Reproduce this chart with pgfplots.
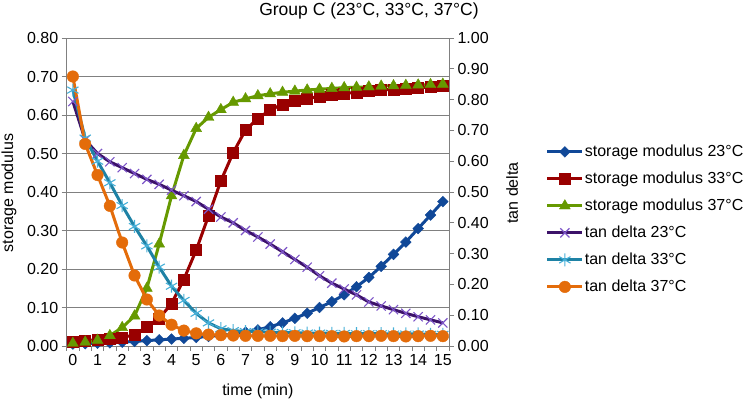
\documentclass[border=0pt]{standalone}
\usepackage{fontspec}
\setmainfont{Liberation Sans}
\usepackage{pgfplots}
\usepackage{pgfplotstable}
\pgfplotsset{compat=1.18}

\definecolor{smblue}{RGB}{16,72,152}
\definecolor{smred}{RGB}{153,0,0}
\definecolor{smgreen}{RGB}{102,153,0}
\definecolor{tdpurple}{RGB}{60,18,105}
\definecolor{tdpurplemark}{RGB}{125,85,200}
\definecolor{tdteal}{RGB}{30,130,165}
\definecolor{tdtealmark}{RGB}{70,175,215}
\definecolor{tdorange}{RGB}{228,108,10}
\definecolor{gridgray}{RGB}{128,128,128}

% time (min), storage modulus and tan delta at 23, 33 and 37 degrees C
\pgfplotstableread{
t    sm23  sm33  sm37  td23  td33  td37
0.0  0.005 0.010 0.007 0.794 0.831 0.875
0.5  0.006 0.013 0.010 0.669 0.675 0.656
1.0  0.007 0.017 0.015 0.625 0.600 0.555
1.5  0.008 0.020 0.027 0.598 0.530 0.455
2.0  0.010 0.022 0.048 0.579 0.456 0.336
2.5  0.012 0.029 0.078 0.560 0.388 0.229
3.0  0.014 0.050 0.150 0.541 0.325 0.151
3.5  0.016 0.072 0.265 0.525 0.256 0.099
4.0  0.018 0.110 0.390 0.506 0.194 0.069
4.5  0.020 0.173 0.495 0.488 0.148 0.050
5.0  0.022 0.249 0.565 0.469 0.106 0.041
5.5  0.025 0.338 0.594 0.444 0.075 0.037
6.0  0.028 0.429 0.614 0.419 0.056 0.035
6.5  0.031 0.502 0.633 0.400 0.050 0.034
7.0  0.036 0.561 0.642 0.375 0.047 0.033
7.5  0.042 0.591 0.650 0.354 0.046 0.033
8.0  0.050 0.613 0.655 0.331 0.045 0.033
8.5  0.060 0.628 0.659 0.306 0.044 0.032
9.0  0.072 0.637 0.662 0.281 0.043 0.033
9.5  0.085 0.643 0.665 0.256 0.042 0.032
10.0 0.100 0.648 0.667 0.228 0.042 0.032
10.5 0.115 0.652 0.669 0.204 0.041 0.032
11.0 0.133 0.656 0.671 0.185 0.041 0.031
11.5 0.154 0.659 0.672 0.166 0.040 0.032
12.0 0.178 0.662 0.673 0.143 0.040 0.032
12.5 0.207 0.665 0.675 0.130 0.040 0.033
13.0 0.238 0.667 0.676 0.118 0.039 0.032
13.5 0.270 0.669 0.677 0.106 0.039 0.031
14.0 0.305 0.671 0.678 0.095 0.039 0.032
14.5 0.340 0.673 0.679 0.085 0.038 0.033
15.0 0.375 0.675 0.680 0.075 0.038 0.032
}\data

\newcommand{\chartfont}{\fontsize{16}{19}\selectfont}

\pgfplotsset{
  sm23/.style={smblue, line width=3pt, mark=square*, mark size=3.8pt,
    mark options={rotate=45, line width=0.4pt, fill=smblue}},
  sm33/.style={smred, line width=3pt, mark=square*, mark size=5.5pt,
    mark options={line width=0.4pt}},
  sm37/.style={smgreen, line width=3pt, mark=triangle*, mark size=6.3pt,
    mark options={line width=0.4pt}},
  td23/.style={tdpurple, line width=3pt, mark=x, mark size=6.5pt,
    mark options={tdpurplemark, line width=1.1pt}},
  td33/.style={tdteal, line width=3pt, mark=asterisk, mark size=6.5pt,
    mark options={tdtealmark, line width=1.1pt}},
  td37/.style={tdorange, line width=3pt, mark=*, mark size=5.8pt,
    mark options={line width=0.4pt}},
  chartbase/.style={
    at={(66.7pt,55pt)}, anchor=south west,
    scale only axis, width=382.3pt, height=308pt,
    xmin=-0.25, xmax=15.25,
    clip=false,
    tick align=outside,
    major tick length=5pt, minor tick length=5pt,
    every tick/.style={gridgray, line width=0.8pt},
    axis line style={gridgray, line width=0.8pt},
    tick label style={font=\chartfont, black},
    label style={font=\chartfont},
    yticklabel style={/pgf/number format/.cd, fixed, fixed zerofill,
      precision=2, assume math mode=true},
  },
}

\begin{document}
\begin{tikzpicture}[x=1pt,y=1pt]
\path[use as bounding box] (0,0) rectangle (744,401);

\node[font=\fontsize{17.5}{21}\selectfont] at (369,390) {Group C (23°C, 33°C, 37°C)};

% storage modulus on the left axis
\begin{axis}[chartbase,
  ymin=0, ymax=0.8,
  ytick={0,0.1,0.2,0.3,0.4,0.5,0.6,0.7,0.8},
  ytick pos=left, xtick pos=bottom,
  xtick={0,1,...,15},
  minor xtick={-0.25,0.25,...,15.25},
  major x tick style={draw=none},
  xticklabel style={/pgf/number format/assume math mode=true},
  ymajorgrids, major grid style={gridgray, line width=0.8pt},
  xlabel={time (min)},
  xlabel style={at={(axis description cs:0.5,-0.146)}, anchor=center},
  ylabel={storage modulus},
  ylabel style={at={(axis description cs:-0.151,0.497)}, anchor=center},
]
\addplot[sm23] table[x=t, y=sm23] {\data};
\addplot[sm33] table[x=t, y=sm33] {\data};
\addplot[sm37] table[x=t, y=sm37] {\data};
\end{axis}

% tan delta on the right axis
\begin{axis}[chartbase,
  ymin=0, ymax=1,
  ytick={0,0.1,0.2,0.3,0.4,0.5,0.6,0.7,0.8,0.9,1.0},
  axis x line=none,
  axis y line*=right,
  ylabel={tan delta},
  ylabel style={at={(axis description cs:1.165,0.497)}, anchor=center},
  legend image code/.code={%
    \draw[mark repeat=2, mark phase=2, #1]
      plot coordinates {(0pt,0pt) (17.5pt,0pt) (35pt,0pt)};},
  legend cell align=left,
  legend style={draw=none, fill=none, font=\chartfont,
    at={(axis description cs:1.245,0.665)}, anchor=north west,
    row sep=10pt,
    nodes={inner sep=1pt, text height=12pt, text depth=3pt}},
]
\addlegendimage{sm23}
\addlegendentry{storage modulus 23°C}
\addlegendimage{sm33}
\addlegendentry{storage modulus 33°C}
\addlegendimage{sm37}
\addlegendentry{storage modulus 37°C}
\addplot[td23] table[x=t, y=td23] {\data};
\addlegendentry{tan delta 23°C}
\addplot[td33] table[x=t, y=td33] {\data};
\addlegendentry{tan delta 33°C}
\addplot[td37] table[x=t, y=td37] {\data};
\addlegendentry{tan delta 37°C}
\end{axis}
\end{tikzpicture}
\end{document}
